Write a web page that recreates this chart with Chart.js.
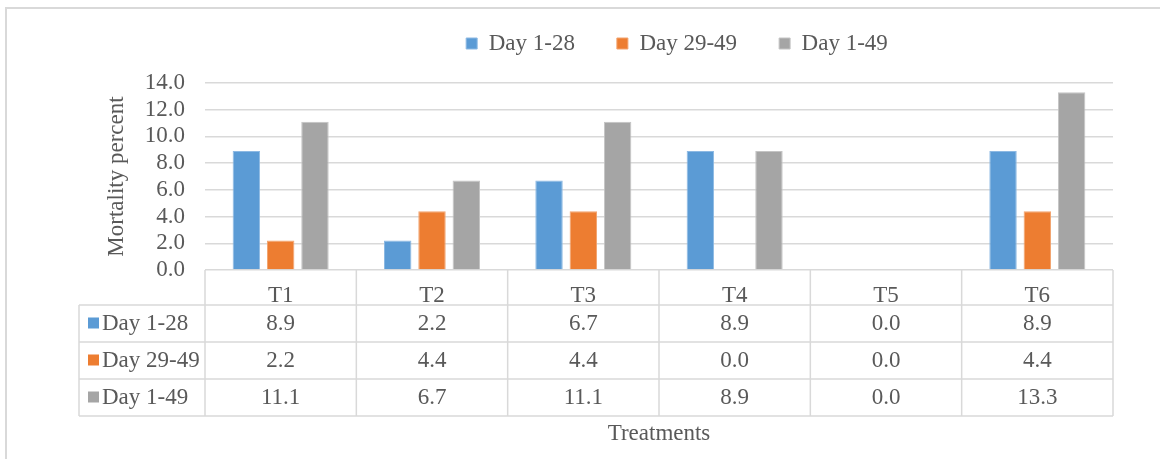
<!DOCTYPE html>
<html>
<head>
<meta charset="utf-8">
<title>Mortality percent by treatment</title>
<script src="https://cdn.jsdelivr.net/npm/chart.js@4.4.1/dist/chart.umd.min.js"></script>
<style>
  html, body { margin: 0; padding: 0; background: #ffffff; }
  canvas { display: block; }
</style>
</head>
<body>
<canvas id="chart" width="1160" height="459"></canvas>
<script>
// ---- data ----
const treatments = ['T1', 'T2', 'T3', 'T4', 'T5', 'T6'];
const seriesNames = ['Day 1-28', 'Day 29-49', 'Day 1-49'];
const day1to28 = [8.9, 2.2, 6.7, 8.9, 0.0, 8.9];
const day29to49 = [2.2, 4.4, 4.4, 0.0, 0.0, 4.4];
const day1to49 = [11.1, 6.7, 11.1, 8.9, 0.0, 13.3];
const yTickValues = [0, 2, 4, 6, 8, 10, 12, 14];

// ---- styling ----
const seriesColors = ['#5B9BD5', '#ED7D31', '#A5A5A5'];
const edgeColors = ['#8DB9E3', '#F2A36E', '#C4C4C4'];
const ink = '#595959';
const rule = '#D9D9D9';
const FAMILY = '"Liberation Serif", "Times New Roman", serif';
const FONT_SIZE = 23;

// Outer frame (left and top edge) plus the data table under the plot.
const frameAndTable = {
  id: 'frameAndTable',
  beforeDraw(chart) {
    const ctx = chart.ctx;
    ctx.save();
    ctx.strokeStyle = rule;
    ctx.lineWidth = 2;
    ctx.beginPath();
    ctx.moveTo(6, chart.height);
    ctx.lineTo(6, 8);
    ctx.lineTo(chart.width, 8);
    ctx.stroke();
    ctx.restore();
  },
  afterDraw(chart, args, opts) {
    const { ctx, chartArea } = chart;
    const xs = chart.scales.x;
    const n = chart.data.labels.length;
    const step = xs.getPixelForValue(1) - xs.getPixelForValue(0);
    const left = xs.getPixelForValue(0) - step / 2;
    const right = xs.getPixelForValue(n - 1) + step / 2;
    const top = chartArea.bottom;
    const bodyTop = top + opts.headerHeight;
    const sets = chart.data.datasets;
    const bottom = bodyTop + sets.length * opts.rowHeight;

    ctx.save();
    ctx.strokeStyle = rule;
    ctx.lineWidth = 1.5;
    ctx.beginPath();
    // horizontal rules of the body rows
    for (let r = 0; r <= sets.length; r++) {
      const y = bodyTop + r * opts.rowHeight;
      ctx.moveTo(opts.left, y);
      ctx.lineTo(right, y);
    }
    // column separators
    for (let i = 0; i <= n; i++) {
      const x = left + i * step;
      ctx.moveTo(x, top);
      ctx.lineTo(x, bottom);
    }
    ctx.moveTo(opts.left, bodyTop);
    ctx.lineTo(opts.left, bottom);
    ctx.stroke();

    ctx.font = FONT_SIZE + 'px ' + FAMILY;
    ctx.fillStyle = ink;
    ctx.textBaseline = 'middle';
    sets.forEach((ds, r) => {
      const cy = bodyTop + (r + 0.5) * opts.rowHeight;
      // series key
      ctx.fillStyle = ds.backgroundColor;
      ctx.fillRect(opts.left + 9, cy - 6, 11, 11);
      ctx.fillStyle = ink;
      ctx.textAlign = 'left';
      ctx.fillText(ds.label, opts.left + 23, cy);
      // values
      ctx.textAlign = 'center';
      ds.data.forEach((v, i) => {
        ctx.fillText(v.toFixed(1), xs.getPixelForValue(i), cy);
      });
    });
    ctx.restore();
  }
};

// Nudges the legend row into place after layout.
const legendOffset = {
  id: 'legendOffset',
  afterLayout(chart, args, opts) {
    const lg = chart.legend;
    if (!lg) return;
    lg.left += opts.dx; lg.right += opts.dx;
    lg.top += opts.dy; lg.bottom += opts.dy;
  }
};

const values = [day1to28, day29to49, day1to49];

new Chart(document.getElementById('chart'), {
  type: 'bar',
  data: {
    labels: treatments,
    datasets: seriesNames.map((name, i) => ({
      label: name,
      data: values[i],
      backgroundColor: seriesColors[i],
      borderColor: edgeColors[i],
      borderWidth: 1,
      categoryPercentage: 0.68,
      barPercentage: 0.8
    }))
  },
  plugins: [frameAndTable, legendOffset],
  options: {
    responsive: false,
    animation: false,
    devicePixelRatio: 1,
    layout: { padding: { left: 99, right: 47, top: 8, bottom: 0 } },
    plugins: {
      tooltip: { enabled: false },
      legend: {
        position: 'top',
        fullSize: false,
        labels: {
          boxWidth: 11,
          boxHeight: 11,
          padding: 42,
          color: ink,
          font: { family: FAMILY, size: FONT_SIZE }
        }
      },
      legendOffset: { dx: 18, dy: -18 },
      frameAndTable: { headerHeight: 35, rowHeight: 37, left: 79 }
    },
    scales: {
      x: {
        grid: { display: false },
        border: { display: false },
        ticks: { color: ink, padding: 4, font: { family: FAMILY, size: FONT_SIZE } },
        title: {
          display: true,
          text: 'Treatments',
          color: ink,
          padding: { top: 0, bottom: 11 },
          font: { family: FAMILY, size: FONT_SIZE }
        },
        afterFit(scale) { scale.height = 189; }
      },
      y: {
        min: yTickValues[0],
        max: yTickValues[yTickValues.length - 1],
        afterBuildTicks(scale) { scale.ticks = yTickValues.map(v => ({ value: v })); },
        grid: { color: rule, lineWidth: 1.5, drawTicks: false },
        border: { display: false },
        ticks: {
          autoSkip: false,
          color: ink,
          padding: 20,
          font: { family: FAMILY, size: FONT_SIZE },
          callback: v => Number(v).toFixed(1)
        },
        title: {
          display: true,
          text: 'Mortality percent',
          color: ink,
          padding: { top: 4, bottom: 0 },
          font: { family: FAMILY, size: FONT_SIZE }
        },
        afterFit(scale) { scale.width = 106; }
      }
    }
  }
});
</script>
</body>
</html>
